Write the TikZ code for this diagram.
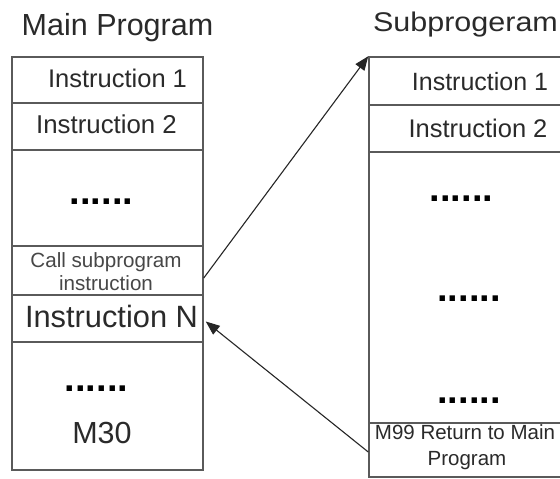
\documentclass[tikz,border=0pt]{standalone}
\usepackage{fontspec}
\usepackage{graphicx}
\setmainfont{Liberation Sans}
\usetikzlibrary{fit,arrows.meta}

\definecolor{boxline}{HTML}{5A5A5A}
\definecolor{txt}{HTML}{2A2A2A}

\begin{document}
\begin{tikzpicture}[x=1pt,y=-1pt,
  cell/.style={draw=boxline, line width=1.5pt, rectangle, inner sep=0pt},
  lbl/.style={anchor=base, inner sep=0pt, text=txt},
  fs/.style={font=\fontsize{#1}{#1}\selectfont},
  dots/.style={anchor=base, inner sep=0pt, text=black, font=\fontsize{38}{38}\selectfont\bfseries},
  arrow/.style={draw=black!85, line width=1.1pt, -{Triangle[length=14pt,width=11pt]}}
]
\useasboundingbox (0,0) rectangle (560,479);
\fill[white] (0,0) rectangle (560,479);
\clip (0,0) rectangle (560,479);

% main program column
\node[cell, fit={(12,57) (203,103)}]  (L1) {};
\node[cell, fit={(12,103) (203,150)}] (L2) {};
\node[cell, fit={(12,150) (203,246)}] (L3) {};
\node[cell, fit={(12,246) (203,295)}] (L4) {};
\node[cell, fit={(12,295) (203,342)}] (L5) {};
\node[cell, fit={(12,342) (203,470)}] (L6) {};

% subprogram column (runs past the right edge)
\node[cell, fit={(369,57) (580,105)}]  (R1) {};
\node[cell, fit={(369,105) (580,152)}] (R2) {};
\node[cell, fit={(369,152) (580,423)}] (R3) {};
\node[cell, fit={(369,423) (580,477)}] (R4) {};

% titles
\node[lbl, fs=30.5] (tmain) at (117.5,35) {Main Program};
\node[lbl, font=\fontsize{27}{27}\selectfont] (tsub) at (465.5,31) {\scalebox{1.13}[1]{Subprogeram}};

% main program labels
\node[lbl, fs=25.5] (l1) at (117.5,87) {Instruction 1};
\node[lbl, fs=25.8] (l2) at (106.5,133) {Instruction 2};
\node[dots] (ld1) at (101.5,204) {......};
\node[lbl, fs=20.6, text=black!72] (l4a) at (106,267) {Call subprogram};
\node[lbl, fs=20.6, text=black!72] (l4b) at (106,290) {instruction};
\node[lbl, fs=30.8] (l5) at (111.5,327) {Instruction N};
\node[dots] (ld2) at (96.5,391) {......};
\node[lbl, fs=30.5] (l6) at (102,443) {M30};

% subprogram labels
\node[lbl, fs=25] (r1) at (480,90) {Instruction 1};
\node[lbl, fs=25.5] (r2) at (478,137) {Instruction 2};
\node[dots] (rd1) at (461.5,201) {......};
\node[dots] (rd2) at (469,301) {......};
\node[dots] (rd3) at (469,403) {......};
\node[lbl, fs=20.5] (r4a) at (465,439) {M99 Return to Main};
\node[lbl, fs=20.5] (r4b) at (467,465) {Program};

% call and return connectors
\draw[arrow] ([yshift=-7.5pt]L4.east) -- (R1.north west);
\draw[arrow] ([yshift=-2pt]R4.west) -- ([xshift=2pt,yshift=-3pt]L5.east);
\end{tikzpicture}
\end{document}
